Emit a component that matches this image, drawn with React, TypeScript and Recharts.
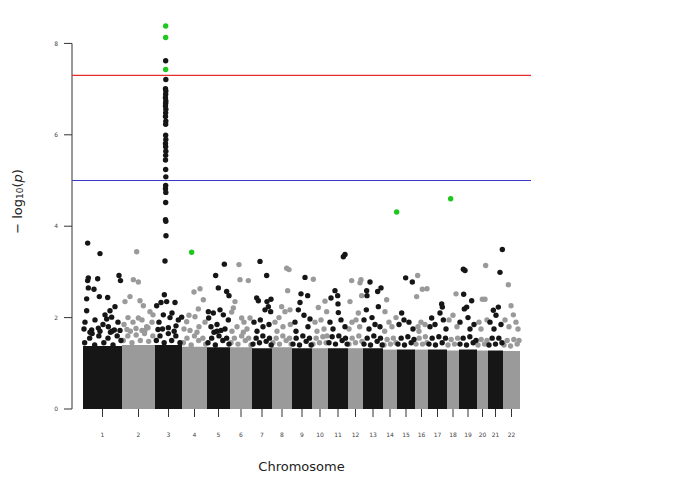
import {
  ScatterChart,
  Scatter,
  XAxis,
  YAxis,
  ReferenceLine,
  ReferenceArea,
} from "recharts";

// chromosome names and lengths (position units, ~Mb)
const chromNames = ["1", "2", "3", "4", "5", "6", "7", "8", "9", "10", "11", "12", "13", "14", "15", "16", "17", "18", "19", "20", "21", "22"];
const chromLen = [234, 198, 162, 150, 138, 132, 120, 120, 120, 96, 120, 90, 120, 84, 108, 78, 114, 72, 108, 66, 90, 102];

// height of the solid cloud of non-significant SNPs per chromosome
const bulkTop = [1.38, 1.4, 1.4, 1.36, 1.35, 1.35, 1.33, 1.35, 1.33, 1.33, 1.33, 1.33, 1.33, 1.3, 1.3, 1.3, 1.3, 1.28, 1.3, 1.28, 1.28, 1.27];

const yTicks = [0, 2, 4, 6, 8];
const genomeWide = 7.3;
const suggestive = 5;

// top edge of the cloud: [chromosome, position within chromosome, -log10(p)]
const edgeSnps: [number, number, number][] = [
  [1, 10, 1.45], [1, 40, 1.55], [1, 70, 1.4], [1, 95, 1.6], [1, 125, 1.45], [1, 150, 1.55], [1, 180, 1.4], [1, 205, 1.6], [1, 228, 1.5], [1, 55, 1.65], [1, 165, 1.68],
  [2, 8, 1.5], [2, 35, 1.6], [2, 60, 1.45], [2, 85, 1.62], [2, 110, 1.5], [2, 135, 1.65], [2, 160, 1.48], [2, 185, 1.6], [2, 50, 1.7], [2, 120, 1.72],
  [3, 8, 1.5], [3, 30, 1.6], [3, 55, 1.45], [3, 80, 1.65], [3, 100, 1.5], [3, 125, 1.6], [3, 150, 1.45], [3, 45, 1.75], [3, 115, 1.7],
  [4, 8, 1.45], [4, 30, 1.55], [4, 55, 1.4], [4, 75, 1.6], [4, 100, 1.5], [4, 125, 1.55], [4, 142, 1.42], [4, 90, 1.68],
  [5, 6, 1.45], [5, 28, 1.55], [5, 50, 1.4], [5, 72, 1.6], [5, 95, 1.5], [5, 118, 1.55], [5, 132, 1.42], [5, 60, 1.7],
  [6, 6, 1.45], [6, 26, 1.55], [6, 48, 1.42], [6, 70, 1.6], [6, 92, 1.5], [6, 112, 1.55], [6, 126, 1.4], [6, 80, 1.68],
  [7, 6, 1.42], [7, 25, 1.55], [7, 45, 1.45], [7, 65, 1.6], [7, 85, 1.48], [7, 105, 1.55], [7, 115, 1.4],
  [8, 6, 1.45], [8, 25, 1.55], [8, 45, 1.42], [8, 65, 1.6], [8, 85, 1.5], [8, 105, 1.55], [8, 115, 1.42],
  [9, 6, 1.42], [9, 25, 1.55], [9, 45, 1.4], [9, 65, 1.6], [9, 85, 1.48], [9, 105, 1.55], [9, 115, 1.4],
  [10, 6, 1.42], [10, 25, 1.55], [10, 45, 1.45], [10, 65, 1.58], [10, 85, 1.45], [10, 90, 1.6],
  [11, 6, 1.45], [11, 25, 1.58], [11, 45, 1.42], [11, 65, 1.6], [11, 85, 1.5], [11, 105, 1.55], [11, 115, 1.42],
  [12, 6, 1.42], [12, 25, 1.55], [12, 45, 1.45], [12, 65, 1.6], [12, 84, 1.48],
  [13, 6, 1.42], [13, 25, 1.55], [13, 45, 1.4], [13, 65, 1.6], [13, 85, 1.48], [13, 105, 1.55], [13, 115, 1.4],
  [14, 6, 1.4], [14, 25, 1.52], [14, 45, 1.42], [14, 62, 1.55], [14, 78, 1.45],
  [15, 6, 1.42], [15, 25, 1.55], [15, 45, 1.4], [15, 65, 1.58], [15, 85, 1.45], [15, 102, 1.52],
  [16, 6, 1.42], [16, 25, 1.55], [16, 45, 1.42], [16, 62, 1.58], [16, 72, 1.45],
  [17, 6, 1.42], [17, 25, 1.55], [17, 45, 1.4], [17, 65, 1.58], [17, 85, 1.45], [17, 105, 1.55],
  [18, 6, 1.4], [18, 25, 1.52], [18, 45, 1.42], [18, 64, 1.55],
  [19, 6, 1.42], [19, 25, 1.55], [19, 45, 1.4], [19, 65, 1.58], [19, 85, 1.45], [19, 102, 1.5],
  [20, 6, 1.4], [20, 25, 1.52], [20, 45, 1.42], [20, 60, 1.5],
  [21, 6, 1.4], [21, 25, 1.55], [21, 45, 1.42], [21, 65, 1.55], [21, 84, 1.45],
  [22, 6, 1.4], [22, 25, 1.5], [22, 45, 1.38], [22, 65, 1.52], [22, 85, 1.42], [22, 96, 1.5],
];

// [chromosome, cumulative position, -log10(p)]
const snps: [number, number, number][] = [
  // chr1
  [1, 28, 3.63], [1, 102, 3.4], [1, 32, 2.87], [1, 28, 2.81], [1, 88, 2.85], [1, 216, 2.92], [1, 225, 2.81],
  [1, 32, 2.65], [1, 66, 2.62], [1, 22, 2.41], [1, 98, 2.46], [1, 148, 2.44], [1, 22, 2.15], [1, 192, 2.24],
  [1, 162, 2.15], [1, 132, 2.06], [1, 142, 1.97], [1, 172, 2.01], [1, 52, 1.73], [1, 92, 1.77], [1, 102, 1.7],
  [1, 152, 1.8], [1, 188, 1.73], [1, 12, 1.9], [1, 72, 1.95], [1, 210, 1.9], [1, 120, 1.85], [1, 42, 1.68],
  [1, 174, 1.7], [1, 222, 1.72], [1, 6, 1.75],
  // chr2
  [2, 322, 3.44], [2, 302, 2.83], [2, 332, 2.78], [2, 252, 2.35], [2, 282, 2.46], [2, 342, 2.37], [2, 362, 2.26],
  [2, 402, 2.13], [2, 332, 1.99], [2, 382, 1.8], [2, 420, 2.06], [2, 246, 1.85], [2, 270, 2.0], [2, 300, 1.9],
  [2, 354, 1.95], [2, 390, 1.78], [2, 414, 1.9], [2, 264, 1.74], [2, 318, 1.76], [2, 372, 1.72],
  // chr3
  [3, 498, 3.79], [3, 492, 3.24], [3, 496, 7.62], [3, 497, 7.21], [3, 495, 7.01], [3, 497, 6.96], [3, 496, 6.89],
  [3, 495, 6.81], [3, 497, 6.74], [3, 496, 6.69], [3, 495, 6.63], [3, 497, 6.56], [3, 496, 6.48], [3, 495, 6.4],
  [3, 497, 6.3], [3, 496, 6.23], [3, 496, 5.99], [3, 497, 5.9], [3, 495, 5.81], [3, 496, 5.74], [3, 497, 5.64],
  [3, 496, 5.55], [3, 495, 5.45], [3, 496, 5.24], [3, 497, 5.08], [3, 496, 4.89], [3, 495, 4.82], [3, 497, 4.74],
  [3, 496, 4.52], [3, 495, 4.14], [3, 497, 4.11], [3, 488, 2.5], [3, 442, 2.26], [3, 468, 2.33], [3, 502, 2.35],
  [3, 552, 2.33], [3, 572, 1.95], [3, 592, 2.01], [3, 482, 2.06], [3, 512, 1.78], [3, 456, 1.9], [3, 534, 2.1],
  [3, 522, 2.0], [3, 558, 1.82], [3, 450, 1.74],
  // chr4
  [4, 666, 2.56], [4, 702, 2.63], [4, 722, 2.39], [4, 692, 2.19], [4, 636, 2.05], [4, 672, 2.02], [4, 622, 1.91],
  [4, 606, 1.75], [4, 732, 1.9], [4, 642, 1.72], [4, 696, 1.8],
  // chr5
  [5, 848, 3.17], [5, 796, 2.92], [5, 812, 2.65], [5, 862, 2.57], [5, 876, 2.48], [5, 752, 2.13], [5, 782, 2.1],
  [5, 822, 2.17], [5, 842, 2.06], [5, 754, 1.99], [5, 872, 1.95], [5, 768, 1.8], [5, 804, 1.85], [5, 852, 1.75],
  [5, 786, 1.68], [5, 828, 1.72],
  // chr6
  [6, 936, 3.16], [6, 942, 2.83], [6, 992, 2.81], [6, 912, 2.35], [6, 902, 2.21], [6, 952, 1.99], [6, 1002, 1.99],
  [6, 892, 2.12], [6, 966, 1.9], [6, 924, 1.8], [6, 984, 1.75], [6, 894, 1.7],
  // chr7
  [7, 1062, 3.23], [7, 1102, 2.92], [7, 1042, 2.43], [7, 1052, 2.37], [7, 1104, 2.35], [7, 1128, 2.4], [7, 1112, 2.24],
  [7, 1092, 2.17], [7, 1126, 2.13], [7, 1026, 1.9], [7, 1064, 1.95], [7, 1080, 1.8], [7, 1116, 1.85], [7, 1044, 1.7],
  // chr8
  [8, 1222, 3.08], [8, 1236, 3.05], [8, 1228, 2.59], [8, 1192, 2.24], [8, 1212, 2.13], [8, 1242, 2.17],
  [8, 1152, 1.9], [8, 1176, 2.0], [8, 1200, 1.8], [8, 1164, 1.7], [8, 1244, 1.85],
  // chr9
  [9, 1332, 2.88], [9, 1308, 2.52], [9, 1348, 2.48], [9, 1302, 2.33], [9, 1292, 2.17], [9, 1362, 1.97],
  [9, 1272, 1.9], [9, 1326, 2.05], [9, 1350, 1.8], [9, 1278, 1.7],
  // chr10
  [10, 1382, 2.84], [10, 1452, 2.36], [10, 1412, 2.22], [10, 1462, 2.13], [10, 1392, 1.9], [10, 1428, 1.95],
  [10, 1446, 1.75], [10, 1404, 1.7],
  // chr11
  [11, 1572, 3.38], [11, 1562, 3.33], [11, 1512, 2.59], [11, 1528, 2.48], [11, 1488, 2.43], [11, 1530, 2.3],
  [11, 1532, 2.11], [11, 1482, 1.9], [11, 1548, 1.95], [11, 1572, 1.8], [11, 1500, 1.75],
  // chr12
  [12, 1612, 2.81], [12, 1668, 2.83], [12, 1662, 2.76], [12, 1672, 2.48], [12, 1602, 2.35], [12, 1652, 2.1],
  [12, 1614, 1.9], [12, 1638, 1.95], [12, 1596, 1.75], [12, 1660, 1.8],
  // chr13
  [13, 1722, 2.78], [13, 1702, 2.59], [13, 1704, 2.48], [13, 1768, 2.57], [13, 1788, 2.65], [13, 1772, 2.24],
  [13, 1700, 2.17], [13, 1686, 1.95], [13, 1734, 2.0], [13, 1752, 1.85], [13, 1716, 1.75], [13, 1782, 1.8],
  // chr14
  [14, 1812, 2.13], [14, 1822, 2.39], [14, 1878, 2.0], [14, 1836, 1.9], [14, 1854, 1.8], [14, 1810, 1.7],
  // chr15
  [15, 1936, 2.87], [15, 1976, 2.78], [15, 1912, 2.1], [15, 1896, 1.85], [15, 1926, 1.95], [15, 1956, 1.9],
  [15, 1980, 1.75],
  // chr16
  [16, 2008, 2.92], [16, 2036, 2.62], [16, 2064, 2.63], [16, 2002, 2.46], [16, 2010, 1.8], [16, 2028, 1.9],
  [16, 2052, 1.85], [16, 2016, 1.7],
  // chr17
  [17, 2152, 2.3], [17, 2156, 2.23], [17, 2092, 1.99], [17, 2142, 2.1], [17, 2162, 1.95], [17, 2082, 1.8],
  [17, 2112, 1.85], [17, 2178, 1.75],
  // chr18
  [18, 2238, 2.52], [18, 2196, 1.95], [18, 2220, 2.05], [18, 2244, 1.8],
  // chr19
  [19, 2282, 3.06], [19, 2292, 3.03], [19, 2284, 2.51], [19, 2332, 2.37], [19, 2288, 2.19], [19, 2302, 2.23],
  [19, 2262, 1.9], [19, 2310, 2.0], [19, 2346, 1.85], [19, 2322, 1.75],
  // chr20
  [20, 2416, 3.14], [20, 2412, 2.4], [20, 2396, 2.4], [20, 2376, 1.9], [20, 2424, 1.95], [20, 2388, 1.75],
  // chr21
  [21, 2516, 3.49], [21, 2502, 2.99], [21, 2492, 2.23], [21, 2462, 2.16], [21, 2442, 1.9], [21, 2478, 2.05],
  [21, 2508, 1.85], [21, 2466, 1.75],
  // chr22
  [22, 2552, 2.72], [22, 2568, 2.26], [22, 2582, 2.06], [22, 2532, 1.95], [22, 2598, 1.9], [22, 2610, 1.75],
  [22, 2556, 1.8],
];

// highlighted SNPs
const highlighted: [number, number, number][] = [
  [3, 496, 8.38], [3, 496, 8.13], [3, 496, 7.43], [4, 652, 3.43], [14, 1882, 4.31], [18, 2206, 4.6],
];

const BLACK = "#161616";
const GREY = "#9a9a9a";
const GREEN = "#1ec81e";

const chromStart = chromLen.map((_, i) => chromLen.slice(0, i).reduce((a, b) => a + b, 0));
const chromCenter = chromLen.map((len, i) => chromStart[i] + len / 2);
const totalLen = chromLen.reduce((a, b) => a + b, 0);
const pad = 66;
const xMin = -pad;
const xMax = totalLen + pad;

const allSnps: [number, number, number][] = [
  ...edgeSnps.map((r): [number, number, number] => [r[0], chromStart[r[0] - 1] + r[1], r[2]]),
  ...snps,
];

const toPoints = (rows: [number, number, number][], odd: boolean) =>
  rows.filter((r) => (r[0] % 2 === 1) === odd).map((r) => ({ pos: r[1], logp: r[2] }));

const blackPts = toPoints(allSnps, true);
const greyPts = toPoints(allSnps, false);
const greenPts = highlighted.map((r) => ({ pos: r[1], logp: r[2] }));

const dot = (fill: string) => (p: any) => <circle cx={p.cx} cy={p.cy} r={2.7} fill={fill} />;

const yLabel = (props: any) => {
  const vb = props.viewBox || { x: 0, y: 0, width: 72, height: 409 };
  const cx = vb.x + 17;
  const cy = vb.y + vb.height / 2 - 3;
  return (
    <text
      transform={`rotate(-90, ${cx}, ${cy})`}
      x={cx}
      y={cy}
      textAnchor="middle"
      dominantBaseline="central"
      fontSize={13}
      fill="#222"
      fontFamily="DejaVu Sans"
    >
      <tspan>− log</tspan>
      <tspan fontSize={9} dy={3}>10</tspan>
      <tspan dy={-3}>(</tspan>
      <tspan fontStyle="italic">p</tspan>
      <tspan>)</tspan>
    </text>
  );
};

export default function App() {
  return (
    <div style={{ position: "absolute", left: 0, top: 0, background: "#fff" }}>
      <ScatterChart
        width={693}
        height={485}
        margin={{ top: 0, right: 162, bottom: 14, left: 0 }}
        style={{ fontFamily: "DejaVu Sans" }}
      >
        <XAxis
          type="number"
          dataKey="pos"
          domain={[xMin, xMax]}
          ticks={chromCenter}
          interval={0}
          tickFormatter={(_v: number, i: number) => chromNames[i]}
          axisLine={false}
          tickLine={{ stroke: "#333" }}
          tickSize={8}
          tickMargin={16}
          tick={{ fontSize: 6, fill: "#444" }}
          height={62}
          allowDataOverflow
          label={{ value: "Chromosome", position: "insideBottom", offset: 0, fontSize: 13, fill: "#222" }}
        />
        <YAxis
          type="number"
          dataKey="logp"
          domain={[0, 8.95]}
          ticks={yTicks}
          interval={0}
          axisLine={false}
          tickLine={{ stroke: "#333" }}
          tickSize={8}
          tickMargin={6}
          tick={{ fontSize: 6, fill: "#444" }}
          width={72}
          allowDataOverflow
          label={yLabel}
        />
        {chromLen.map((len, i) => (
          <ReferenceArea
            key={chromNames[i]}
            x1={chromStart[i]}
            x2={chromStart[i] + len}
            y1={0}
            y2={bulkTop[i]}
            fill={i % 2 === 0 ? BLACK : GREY}
            fillOpacity={1}
            stroke="none"
            ifOverflow="visible"
          />
        ))}
        <ReferenceLine
          segment={[{ x: xMin, y: 0 }, { x: xMin, y: 8 }]}
          stroke="#333"
          strokeWidth={1}
          ifOverflow="visible"
        />
        <ReferenceLine y={genomeWide} stroke="#e82c2c" strokeWidth={1.1} />
        <ReferenceLine y={suggestive} stroke="#3a3ac8" strokeWidth={1.1} />
        <Scatter data={greyPts} shape={dot(GREY)} isAnimationActive={false} />
        <Scatter data={blackPts} shape={dot(BLACK)} isAnimationActive={false} />
        <Scatter data={greenPts} shape={dot(GREEN)} isAnimationActive={false} />
      </ScatterChart>
    </div>
  );
}
